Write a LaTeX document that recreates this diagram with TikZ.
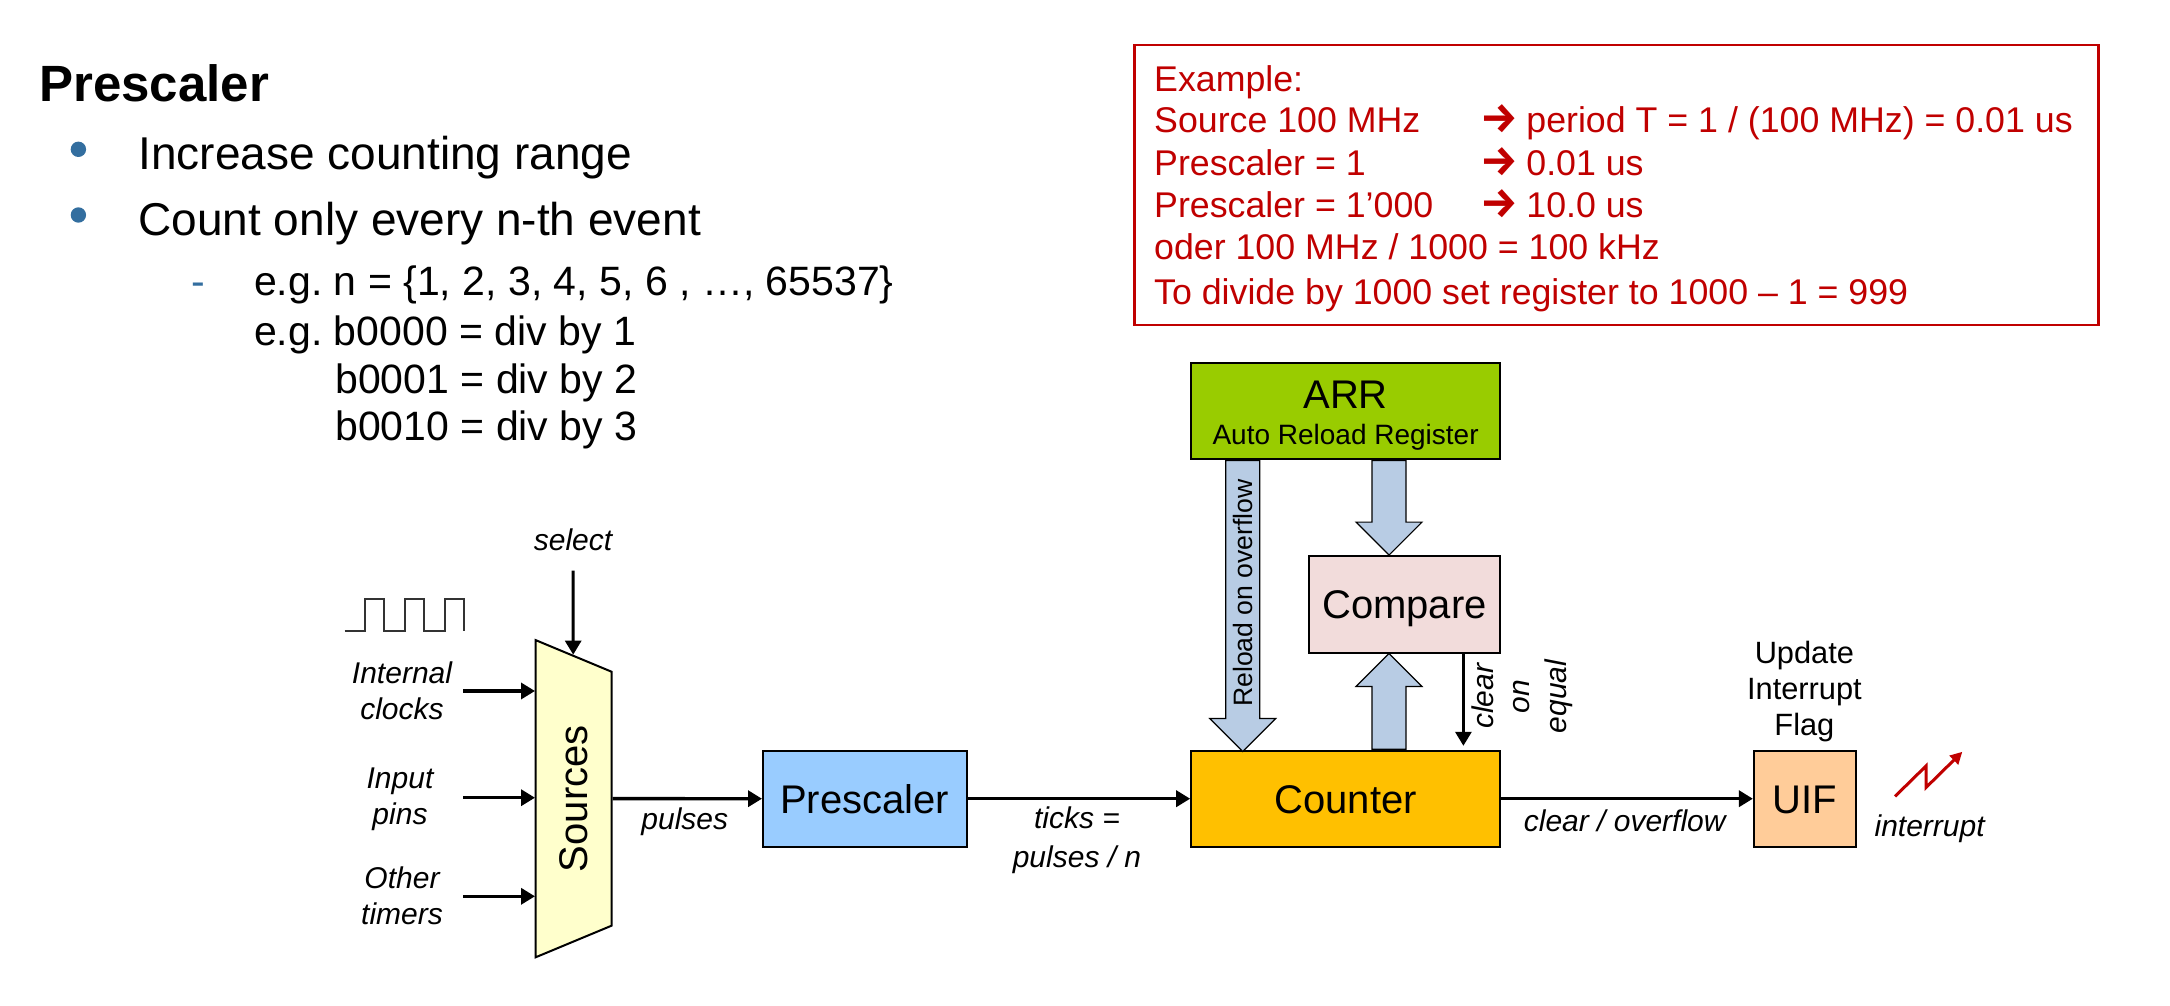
\documentclass[tikz,border=0pt]{standalone}
\usepackage{fontspec}
\setmainfont{Liberation Sans}
\newfontfamily\arrowfont{Fira Sans}
\usetikzlibrary{arrows.meta,shapes.geometric,shapes.arrows}

\definecolor{exred}{HTML}{C00000}
\definecolor{dotblue}{HTML}{336E9F}
\definecolor{arrowblue}{HTML}{B8CCE4}
\definecolor{srcyellow}{HTML}{FFFFCC}
\definecolor{prescblue}{HTML}{99CCFF}
\definecolor{cntorange}{HTML}{FFC000}
\definecolor{uifpeach}{HTML}{FFCC99}
\definecolor{arrgreen}{HTML}{99CC00}
\definecolor{cmppink}{HTML}{F2DCDB}

\tikzset{
  box/.style={draw=black, line width=1pt, inner sep=0pt, text height=14.3pt, text depth=0pt, font=\fontsize{20}{24}\selectfont},
  sig/.style={line width=1.7pt, -{Triangle[length=7pt,width=8pt]}},
  thinsig/.style={line width=1.5pt, -{Triangle[length=7pt,width=8pt]}},
  lbl/.style={inner sep=0pt, align=center, font=\fontsize{15}{18.2}\selectfont\itshape},
  para/.style={inner sep=0pt, anchor=base west, font=\fontsize{23}{28}\selectfont},
  sub/.style={inner sep=0pt, anchor=base west, font=\fontsize{20.5}{24}\selectfont},
  ex/.style={inner sep=0pt, anchor=base west, text=exred, font=\fontsize{17.87}{22}\selectfont},
  exarrow/.style={inner sep=0pt, anchor=base west, text=exred, font=\fontsize{21}{22}\arrowfont\bfseries},
  dot/.style={circle, fill=dotblue, inner sep=0pt, minimum size=7.7pt},
  barrow/.style={single arrow, draw=black, line width=.6pt, fill=arrowblue, anchor=tail,
    inner sep=8.2pt, minimum width=32.4pt, single arrow head extend=8pt, single arrow tip angle=90},
}

\begin{document}
\frenchspacing
\begin{tikzpicture}[x=.5pt, y=-.5pt]
  \useasboundingbox (0,0) rectangle (2170,1006);

  % heading and list
  \node[inner sep=0pt, anchor=base west, font=\fontsize{25.5}{30}\selectfont\bfseries] (title) at (39,101.7) {Prescaler};
  \node[dot] (dota) at (78.4,149.3) {};
  \node[para] (itema) at (138,169.3) {Increase counting range};
  \node[dot] (dotb) at (78.4,215) {};
  \node[para] (itemb) at (138,235) {Count only every n-th event};
  \node[sub, text=dotblue] (dash) at (191,295) {-};
  \node[sub] (suba) at (253.8,295) {e.g. n = \{1, 2, 3, 4, 5, 6 , …, 65537\}};
  \node[sub] (subb) at (253.8,345) {e.g. b0000 = div by 1};
  \node[sub] (subc) at (335,393) {b0001 = div by 2};
  \node[sub] (subd) at (335,440.7) {b0010 = div by 3};

  % example box
  \node[draw=exred, line width=1.2pt, minimum width=482pt, minimum height=140pt, inner sep=0pt] (example) at (1616.5,185) {};
  \node[ex] (exa) at (1153.8,91.4) {Example:};
  \node[ex] (exb) at (1153.8,132.7) {Source 100 MHz};
  \node[ex] (exc) at (1153.8,176) {Prescaler = 1};
  \node[ex] (exd) at (1153.8,217.3) {Prescaler = 1’000};
  \node[ex] (exe) at (1153.8,259) {oder 100 MHz / 1000 = 100 kHz};
  \node[ex] (exf) at (1153.8,304) {To divide by 1000 set register to 1000 – 1 = 999};
  \node[exarrow] (arrb) at (1480,132.7) {→};
  \node[exarrow] (arrc) at (1480,176) {→};
  \node[exarrow] (arrd) at (1480,217.3) {→};
  \node[ex] (resb) at (1526,132.7) {period T = 1 / (100 MHz) = 0.01 us};
  \node[ex] (resc) at (1526,176) {0.01 us};
  \node[ex] (resd) at (1526,217.3) {10.0 us};

  % sources
  \draw[draw=black!80, line width=1pt] (344.6,631) -- (364.7,631) -- (364.7,599.3) -- (384,599.3) -- (384,631)
    -- (405,631) -- (405,599.3) -- (424,599.3) -- (424,631) -- (445,631) -- (445,599.3) -- (464,599.3) -- (464,631);
  \node[box, trapezium, rotate=90, shape border rotate=180, fill=srcyellow, inner ysep=11.85pt,
        trapezium left angle=67.4, trapezium right angle=67.4, trapezium stretches body=true,
        minimum width=158.6pt, minimum height=38pt] (sources) at (573.6,798.7) {Sources};
  \node[lbl] (selectlbl) at (573,540) {select};
  \node[lbl] (internal) at (402,691) {Internal\\clocks};
  \node[lbl] (input) at (400,799) {Input\\pins};
  \node[lbl] (other) at (402,896) {Other\\timers};
  \coordinate (selin) at (573,570.7);
  \coordinate (intin) at (463,691);
  \coordinate (inpin) at (463,797.7);
  \coordinate (othin) at (463,896.3);
  \coordinate (intend) at (535,691);
  \coordinate (inpend) at (535,797.7);
  \coordinate (othend) at (535,896.3);
  \draw[thinsig] (selin) -- (sources);
  \draw[sig] (intin) -- (intend);
  \draw[sig] (inpin) -- (inpend);
  \draw[sig] (othin) -- (othend);

  % main path
  \node[box, fill=prescblue, minimum width=101.75pt, minimum height=48pt] (prescaler) at (864.75,798.7) {Prescaler};
  \node[box, fill=cntorange, minimum width=154.4pt, minimum height=47.9pt] (counter) at (1345.6,798.7) {Counter};
  \node[box, fill=uifpeach, minimum width=50.8pt, minimum height=47.9pt] (uif) at (1804.7,798.7) {UIF};
  \draw[sig] (sources) -- (prescaler);
  \draw[sig] (prescaler) -- (counter);
  \draw[sig] (counter) -- (uif);
  \node[lbl] (pulseslbl) at (684.8,821.7) {pulses};
  \node[lbl] (tickslbl) at (1077,840) {ticks =\\[1.4pt]pulses / n};
  \node[lbl] (clearlbl) at (1624.7,820.7) {clear / overflow};

  % reload and compare
  \node[box, fill=arrgreen, minimum width=154.4pt, minimum height=47.9pt] (arr) at (1345.6,411) {};
  \node[inner sep=0pt, anchor=base, font=\fontsize{20}{24}\selectfont] (arrlbl) at (1345.6,408) {ARR};
  \node[inner sep=0pt, anchor=base, font=\fontsize{14}{14}\selectfont] (autolbl) at (1345.6,444.6) {Auto Reload Register};
  \node[box, fill=cmppink, minimum width=95.5pt, minimum height=48.2pt] (compare) at (1404.5,604.6) {Compare};
  \node[barrow, shape border rotate=270, minimum height=145.5pt] (reload) at ([xshift=-51.45pt]arr.south) {};
  \node[barrow, shape border rotate=270, minimum height=47.3pt] (down) at ([xshift=21.7pt]arr.south) {};
  \node[barrow, shape border rotate=90, minimum height=47.85pt] (up) at ([xshift=21.7pt]counter.north) {};
  \node[rotate=90, inner sep=0pt, font=\fontsize{13.3}{15}\selectfont] (reloadlbl) at (1243,593) {Reload on overflow};
  \draw[thinsig] ([xshift=29.45pt]compare.south) -- ([xshift=29.45pt,yshift=2pt]compare.south |- counter.north);
  \node[lbl, rotate=90] (equallbl) at (1522,696.4) {clear\\on\\equal};

  % flag
  \node[inner sep=0pt, align=center, font=\fontsize{15.4}{18}\selectfont] (flaglbl) at (1804.4,692) {Update\\Interrupt\\Flag};
  \draw[exred, line width=1.5pt, -{Triangle[length=6pt,width=6pt]}] (1895,796.4) -- (1926,766) -- (1926,787.5) -- (1962.3,751.8);
  \node[lbl] (interruptlbl) at (1929.6,828.6) {interrupt};
\end{tikzpicture}
\end{document}
